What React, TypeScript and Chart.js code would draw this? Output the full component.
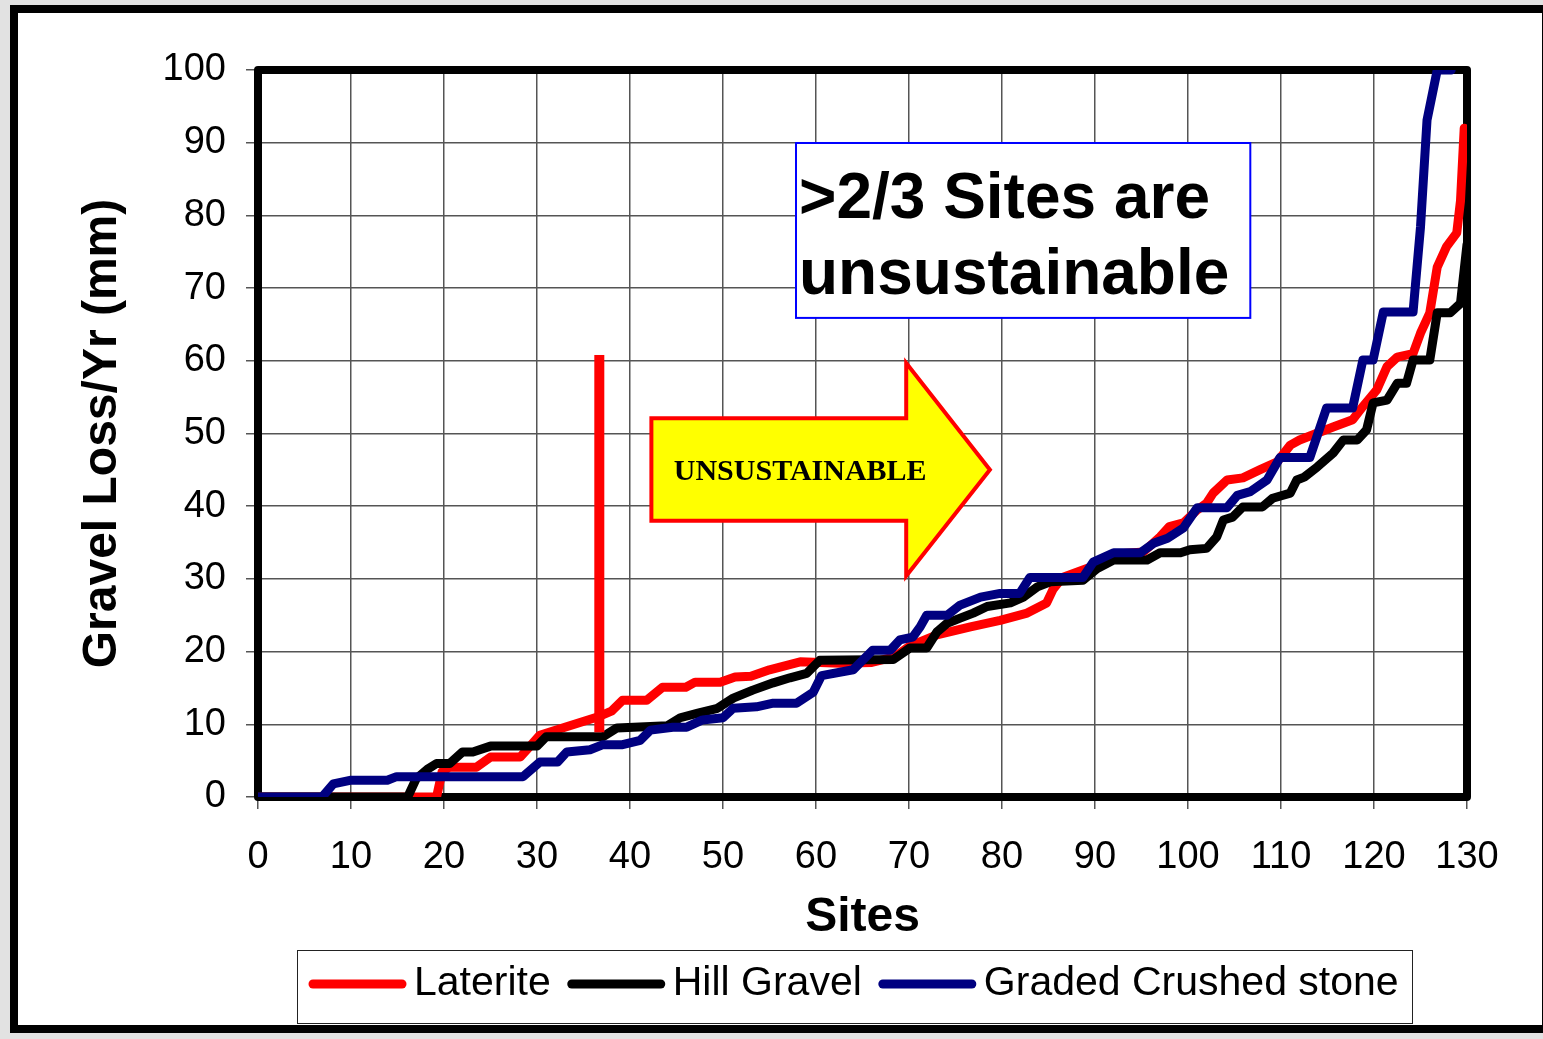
import React, { useEffect, useRef } from 'react';
import { Chart, registerables } from 'chart.js';

Chart.register(...registerables);

const SANS = "'Liberation Sans', Arial, sans-serif";
const SERIF = "'Liberation Serif', 'Times New Roman', serif";

const seriesLabels = ['Laterite', 'Hill Gravel', 'Graded Crushed stone'];
const seriesColors = ['#ff0000', '#000000', '#000080'];

const xTitle = 'Sites';
const yTitle = 'Gravel Loss/Yr (mm)';
const xMin = 0, xMax = 130, xStep = 10;
const yMin = 0, yMax = 100, yStep = 10;

const lateriteSites = [0, 19.2, 19.8, 20.6, 23.5, 25, 28.2, 29.2, 30.3, 33, 36.5, 38, 39.2, 41.8, 43.5, 46, 47, 49.7, 51.3, 53, 55, 58.3, 62.6, 66, 68.5, 70, 73, 76.6, 79.8, 82.7, 84.8, 85.5, 86.5, 89.5, 92, 95.2, 97, 98, 99.5, 101, 102, 102.7, 104.2, 105.9, 107.7, 109.6, 111, 112, 115.6, 117.7, 118.8, 120.3, 121.4, 122.5, 124.2, 125, 126, 126.8, 127.8, 128.9, 129.3, 129.7];
const lateriteLoss = [0, 0, 3.5, 4.1, 4.1, 5.5, 5.5, 6.9, 8.5, 9.6, 11.0, 11.8, 13.3, 13.3, 15.1, 15.1, 15.8, 15.8, 16.5, 16.6, 17.5, 18.6, 18.4, 18.5, 19.3, 20.7, 22.3, 23.4, 24.3, 25.3, 26.7, 28.6, 30.2, 31.6, 33.4, 33.7, 35.8, 37.2, 37.7, 39.5, 40.4, 41.8, 43.6, 43.9, 45, 46.1, 48.4, 49.1, 50.9, 51.9, 53.7, 56, 59.2, 60.5, 61, 63.8, 66.6, 72.9, 75.7, 77.6, 82, 92];

const hillSites = [0, 16.1, 17, 18.2, 19.2, 20.6, 22, 23.1, 25, 30, 31, 37.1, 38.6, 44, 45.4, 47.2, 49.4, 51.1, 53.2, 55.4, 57.2, 59, 60.4, 68.3, 70.1, 71.9, 73, 74.1, 75.5, 76.9, 78.4, 80.9, 82.3, 83.8, 85.2, 88.7, 90.2, 92, 95.6, 97, 99.2, 100.2, 102, 103.1, 103.8, 104.8, 105.9, 108, 109.1, 111, 111.7, 112.5, 113.9, 115.6, 116.7, 118.2, 119.2, 119.9, 121.4, 122.5, 123.5, 124.2, 126, 126.8, 128.2, 129.3, 130];
const hillLoss = [0, 0, 2.5, 3.8, 4.6, 4.6, 6.2, 6.2, 7.0, 7.0, 8.3, 8.3, 9.5, 9.8, 10.9, 11.5, 12.2, 13.6, 14.7, 15.7, 16.4, 17, 18.8, 18.9, 20.5, 20.5, 22.7, 23.9, 24.6, 25.3, 26.2, 26.7, 27.5, 28.9, 29.6, 29.8, 31.4, 32.6, 32.6, 33.6, 33.6, 34, 34.2, 35.8, 38.1, 38.5, 39.9, 39.9, 41.1, 41.8, 43.6, 44, 45.4, 47.3, 49.1, 49.1, 50.5, 54.2, 54.6, 56.9, 56.9, 60.1, 60.1, 66.6, 66.6, 67.9, 76];

const stoneSites = [0, 6.9, 8.1, 9.9, 13.9, 14.9, 28.5, 30.3, 32.2, 33.2, 35.7, 37.1, 39.2, 41.1, 42.2, 44.6, 46.1, 47.8, 50, 51.1, 53.6, 55.4, 57.9, 59.7, 60.6, 64, 65, 66.1, 68, 69, 70.4, 71.2, 71.9, 74.1, 75.5, 77.7, 79.8, 81.9, 83, 88.7, 89.8, 92, 94.9, 96.3, 97.8, 99.5, 101, 104.2, 105.3, 106.7, 108.5, 109.9, 113.1, 114.9, 117.7, 118.8, 119.9, 121, 124.2, 125, 125.7, 126.8, 128.3];
const stoneLoss = [0, 0, 1.8, 2.3, 2.3, 2.8, 2.8, 4.8, 4.8, 6.2, 6.5, 7.2, 7.2, 7.8, 9.2, 9.6, 9.6, 10.6, 10.9, 12.2, 12.4, 12.9, 12.9, 14.4, 16.7, 17.5, 18.8, 20.2, 20.2, 21.6, 22, 23.4, 25, 25, 26.4, 27.5, 28, 28, 30.2, 30.2, 32.3, 33.6, 33.6, 34.9, 35.6, 37, 39.8, 39.8, 41.5, 42, 43.6, 46.7, 46.7, 53.5, 53.5, 60.1, 60.1, 66.7, 66.7, 78.4, 93.1, 100, 100];

// annotations (data coordinates)
const markerSite = 36.7;
const markerRange = [8.9, 60.8];
const arrowX = [42.3, 69.7, 78.7]; // body left, body right/head base, tip
const arrowBodyY = [38, 52.1];
const arrowHeadY = [30.4, 59.7];
const arrowTipY = 45;
const arrowText = 'UNSUSTAINABLE';
const arrowTextPos = [58.3, 44.7];
const noteBoxX = [57.85, 106.7];
const noteBoxY = [65.9, 89.96];
const noteLines = ['>2/3 Sites are', 'unsustainable'];
const noteBaselines = [79.6, 69.2];

const toPoints = (xs: number[], ys: number[]) => xs.map((x, i) => ({ x, y: ys[i] }));

const framePlugin = {
  id: 'frame',
  beforeDatasetsDraw(chart: any) {
    const { ctx, chartArea: a } = chart;
    ctx.save();
    ctx.strokeStyle = '#000';
    ctx.lineWidth = 8;
    ctx.lineJoin = 'round';
    ctx.strokeRect(a.left, a.top, a.right - a.left, a.bottom - a.top);
    ctx.restore();
  },
};

const annotationPlugin = {
  id: 'annots',
  afterDatasetsDraw(chart: any) {
    const { ctx } = chart;
    const xs = chart.scales.x, ys = chart.scales.y;
    const px = (v: number) => xs.getPixelForValue(v);
    const py = (v: number) => ys.getPixelForValue(v);
    ctx.save();
    // red marker bar
    ctx.fillStyle = '#ff0000';
    const mx = px(markerSite);
    ctx.fillRect(mx - 5, py(markerRange[1]), 10, py(markerRange[0]) - py(markerRange[1]));
    // arrow
    ctx.beginPath();
    ctx.moveTo(px(arrowX[0]), py(arrowBodyY[1]));
    ctx.lineTo(px(arrowX[1]), py(arrowBodyY[1]));
    ctx.lineTo(px(arrowX[1]), py(arrowHeadY[1]));
    ctx.lineTo(px(arrowX[2]), py(arrowTipY));
    ctx.lineTo(px(arrowX[1]), py(arrowHeadY[0]));
    ctx.lineTo(px(arrowX[1]), py(arrowBodyY[0]));
    ctx.lineTo(px(arrowX[0]), py(arrowBodyY[0]));
    ctx.closePath();
    ctx.fillStyle = '#ffff00';
    ctx.fill();
    ctx.strokeStyle = '#ff0000';
    ctx.lineWidth = 4;
    ctx.lineJoin = 'miter';
    ctx.stroke();
    ctx.fillStyle = '#000';
    ctx.font = `bold 30px ${SERIF}`;
    ctx.textAlign = 'center';
    ctx.textBaseline = 'middle';
    ctx.fillText(arrowText, px(arrowTextPos[0]), py(arrowTextPos[1]));
    // note box
    const bx = px(noteBoxX[0]), by = py(noteBoxY[1]);
    const bw = px(noteBoxX[1]) - bx, bh = py(noteBoxY[0]) - by;
    ctx.fillStyle = '#fff';
    ctx.fillRect(bx, by, bw, bh);
    ctx.strokeStyle = '#0000ff';
    ctx.lineWidth = 2;
    ctx.strokeRect(bx, by, bw, bh);
    ctx.fillStyle = '#000';
    ctx.font = `bold 64px ${SANS}`;
    ctx.textAlign = 'left';
    ctx.textBaseline = 'alphabetic';
    noteLines.forEach((t, i) => ctx.fillText(t, bx + 3, py(noteBaselines[i])));
    ctx.restore();
  },
};

const legendPlugin = {
  id: 'customLegend',
  afterDraw(chart: any) {
    const { ctx } = chart;
    ctx.save();
    ctx.strokeStyle = '#222';
    ctx.lineWidth = 1;
    ctx.strokeRect(297.5, 950.5, 1115, 73);
    ctx.font = `41px ${SANS}`;
    ctx.textBaseline = 'middle';
    ctx.textAlign = 'left';
    let x = 310;
    const y = 984;
    chart.data.datasets.forEach((ds: any) => {
      ctx.strokeStyle = ds.borderColor;
      ctx.lineWidth = 9;
      ctx.lineCap = 'round';
      ctx.beginPath();
      ctx.moveTo(x + 3, y);
      ctx.lineTo(x + 92, y);
      ctx.stroke();
      ctx.fillStyle = '#000';
      const tx = x + 104;
      ctx.fillText(ds.label, tx, y);
      x = tx + ctx.measureText(ds.label).width + 18;
    });
    ctx.restore();
  },
};

export default function App() {
  const ref = useRef<HTMLCanvasElement | null>(null);
  useEffect(() => {
    if (!ref.current) return;
    const seriesData = [
      toPoints(lateriteSites, lateriteLoss),
      toPoints(hillSites, hillLoss),
      toPoints(stoneSites, stoneLoss),
    ];
    const drawOrder = [2, 1, 0];
    const tickFont = { family: SANS, size: 38 };
    const titleFont = { family: SANS, size: 48, weight: 'bold' as const };
    const chart = new Chart(ref.current, {
      type: 'line',
      data: {
        datasets: seriesLabels.map((label, i) => ({
          label,
          data: seriesData[i],
          borderColor: seriesColors[i],
          backgroundColor: seriesColors[i],
          borderWidth: 9,
          pointRadius: 0,
          tension: 0,
          fill: false,
          borderJoinStyle: 'round' as const,
          borderCapStyle: 'round' as const,
          clip: 0,
          order: drawOrder[i],
        })),
      },
      options: {
        responsive: false,
        animation: false,
        events: [],
        layout: { padding: { left: 0, top: 70, right: 76, bottom: 92 } },
        plugins: { legend: { display: false }, tooltip: { enabled: false } },
        scales: {
          x: {
            type: 'linear',
            min: xMin,
            max: xMax,
            ticks: { stepSize: xStep, font: tickFont, color: '#000', padding: 26, maxRotation: 0, autoSkip: false },
            grid: { color: '#555', lineWidth: 1.5, tickLength: 12 },
            border: { display: false },
            title: { display: true, text: xTitle, font: titleFont, color: '#000', padding: { top: 0, bottom: 0 } },
            afterFit: (s: any) => { s.height = 150; },
          },
          y: {
            type: 'linear',
            min: yMin,
            max: yMax,
            ticks: { stepSize: yStep, font: tickFont, color: '#000', padding: 20 },
            grid: { color: '#555', lineWidth: 1.5, tickLength: 12 },
            border: { display: false },
            title: { display: true, text: yTitle, font: titleFont, color: '#000', padding: { top: 74, bottom: 0 } },
            afterFit: (s: any) => { s.width = 258; },
          },
        },
      },
      plugins: [framePlugin, annotationPlugin, legendPlugin],
    });
    return () => chart.destroy();
  }, []);

  return (
    <div style={{ position: 'fixed', left: 0, top: 0, width: 1543, height: 1039, background: '#e2e2e2', overflow: 'hidden' }}>
      <div style={{ position: 'absolute', left: 10, top: 5, width: 1540, height: 1028, border: '8px solid #000', background: '#fff', boxSizing: 'border-box' }} />
      <canvas ref={ref} width={1543} height={1039} style={{ position: 'absolute', left: 0, top: 0, width: 1543, height: 1039 }} />
    </div>
  );
}
